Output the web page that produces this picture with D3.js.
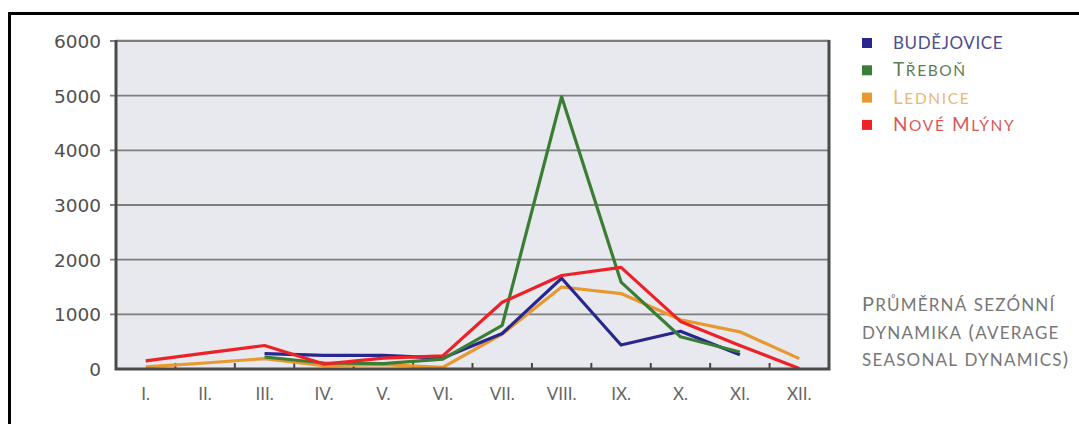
<!DOCTYPE html>
<html>
<head>
<meta charset="utf-8">
<script src="https://cdn.jsdelivr.net/npm/d3@7"></script>
<style>
  body { margin: 0; background: #fff; }
</style>
</head>
<body>
<div id="chart"></div>
<script>
var width = 1079;
var height = 424;

var months = ["I.", "II.", "III.", "IV.", "V.", "VI.", "VII.", "VIII.", "IX.", "X.", "XI.", "XII."];
var yTicks = [0, 1000, 2000, 3000, 4000, 5000, 6000];

// null = no value for that month
var budejovice = [null, null, 280, 250, 250, 200, 650, 1660, 440, 690, 260, null];
var trebon     = [null, null, 220, 110, 100, 180, 800, 4980, 1590, 590, 310, null];
var lednice    = [40, 110, 190, 60, 80, 30, 640, 1500, 1380, 900, 680, 190];
var noveMlyny  = [150, 290, 430, 90, 200, 240, 1220, 1710, 1860, 870, 430, 10];

var seriesNames = ["BUDĚJOVICE", "Třeboň", "Lednice", "Nové Mlýny"];
var seriesColors = ["#27278f", "#3c7d35", "#e8982e", "#ec2228"];
var labelColors = ["#4d4d8f", "#5f7d55", "#e8b878", "#d85858"];
var seriesData = [budejovice, trebon, lednice, noveMlyny];

var note = ["Průměrná sezónní", "dynamika (average", "seasonal dynamics)"];

var svg = d3.select("#chart").append("svg")
    .attr("width", width)
    .attr("height", height);

// fake small caps: capitals at full size, lowercase letters as smaller capitals
var smallCaps = function(sel, big, small, spacing) {
    sel.each(function(d) {
        var t = d3.select(this);
        var runs = [];
        for (var i = 0; i < d.length; i++) {
            var c = d[i];
            var low = c !== c.toUpperCase();
            if (runs.length && runs[runs.length - 1].low == low) {
                runs[runs.length - 1].s += c;
            } else {
                runs.push({ s: c, low: low });
            }
        }
        runs.forEach(function(r) {
            t.append("tspan")
                .text(r.low ? r.s.toUpperCase() : r.s)
                .style("font-size", (r.low ? small : big) + "px")
                .style("letter-spacing", spacing + "px");
        });
    });
}

// black frame (top + left)
svg.append("line").attr("x1", 8).attr("x2", width).attr("y1", 13.5).attr("y2", 13.5)
    .style("stroke", "black").style("stroke-width", 3);
svg.append("line").attr("x1", 9.5).attr("x2", 9.5).attr("y1", 12).attr("y2", height)
    .style("stroke", "black").style("stroke-width", 3);

var x = d3.scaleBand().domain(months).range([116, 829]);
var y = d3.scaleLinear().domain([0, 6000]).range([369, 41]);

// plot background
svg.append("rect")
    .attr("x", 116).attr("y", 40)
    .attr("width", 829 - 116).attr("height", 369 - 40)
    .attr("fill", "#e7e9ee")
    .style("stroke", "#b8b8b8");

// gridlines
svg.selectAll(".grid")
    .data(yTicks.filter(function(d) { return d > 0; }))
    .enter().append("line")
    .attr("class", "grid")
    .attr("x1", 110).attr("x2", 829)
    .attr("y1", function(d) { return y(d); })
    .attr("y2", function(d) { return y(d); })
    .style("stroke", "#7e7e7e")
    .style("stroke-width", 1.8);

// y labels
svg.selectAll(".ylab")
    .data(yTicks)
    .enter().append("text")
    .attr("class", "ylab")
    .attr("x", 101)
    .attr("y", function(d) { return y(d) + 7; })
    .text(function(d) { return d; })
    .style("text-anchor", "end")
    .style("fill", "#505050")
    .style("font-family", "DejaVu Sans")
    .style("font-size", "18.5px");

// x tick marks between months
svg.selectAll(".xtick")
    .data(months.slice(1))
    .enter().append("line")
    .attr("class", "xtick")
    .attr("x1", function(d) { return x(d); })
    .attr("x2", function(d) { return x(d); })
    .attr("y1", 369).attr("y2", 363)
    .style("stroke", "#444")
    .style("stroke-width", 2);

// x labels
svg.selectAll(".xlab")
    .data(months)
    .enter().append("text")
    .attr("class", "xlab")
    .attr("x", function(d) { return x(d) + x.bandwidth() / 2; })
    .attr("y", 400)
    .text(function(d) { return d; })
    .style("text-anchor", "middle")
    .style("fill", "#666")
    .style("font-family", "Lato")
    .style("font-size", "17px");

// lines
var line = d3.line()
    .defined(function(d) { return d != null; })
    .x(function(d, i) { return x(months[i]) + x.bandwidth() / 2; })
    .y(function(d) { return y(d); });

[2, 0, 1, 3].forEach(function(k) {
    svg.append("path")
        .datum(seriesData[k])
        .attr("d", line)
        .attr("fill", "none")
        .style("stroke", seriesColors[k])
        .style("stroke-width", 3.2)
        .style("stroke-linejoin", "round");
});

// axes frame
svg.append("path")
    .attr("d", "M116,40V369H829V40")
    .attr("fill", "none")
    .style("stroke", "#4a4a4a")
    .style("stroke-width", 3);

// legend
var legend = svg.selectAll(".legend")
    .data(seriesNames)
    .enter().append("g")
    .attr("class", "legend")
    .attr("transform", function(d, i) { return "translate(" + [862, 43 + i * 27.3] + ")"; });

legend.append("rect")
    .attr("x", 0).attr("y", -5)
    .attr("width", 10).attr("height", 10)
    .attr("fill", function(d, i) { return seriesColors[i]; });

legend.append("text")
    .attr("x", 31).attr("y", 6)
    .style("fill", function(d, i) { return labelColors[i]; })
    .style("font-family", "Lato")
    .call(function(sel) {
        sel.filter(function(d, i) { return i == 0; }).call(smallCaps, 17, 15, 0.6);
        sel.filter(function(d, i) { return i > 0; }).call(smallCaps, 19, 15.5, 1.6);
    });

// note
svg.selectAll(".note")
    .data(note)
    .enter().append("text")
    .attr("class", "note")
    .attr("x", 862)
    .attr("y", function(d, i) { return 311 + i * 27.5; })
    .style("fill", "#777")
    .style("font-family", "Lato")
    .call(smallCaps, 20, 17, 1.2);
</script>
</body>
</html>
